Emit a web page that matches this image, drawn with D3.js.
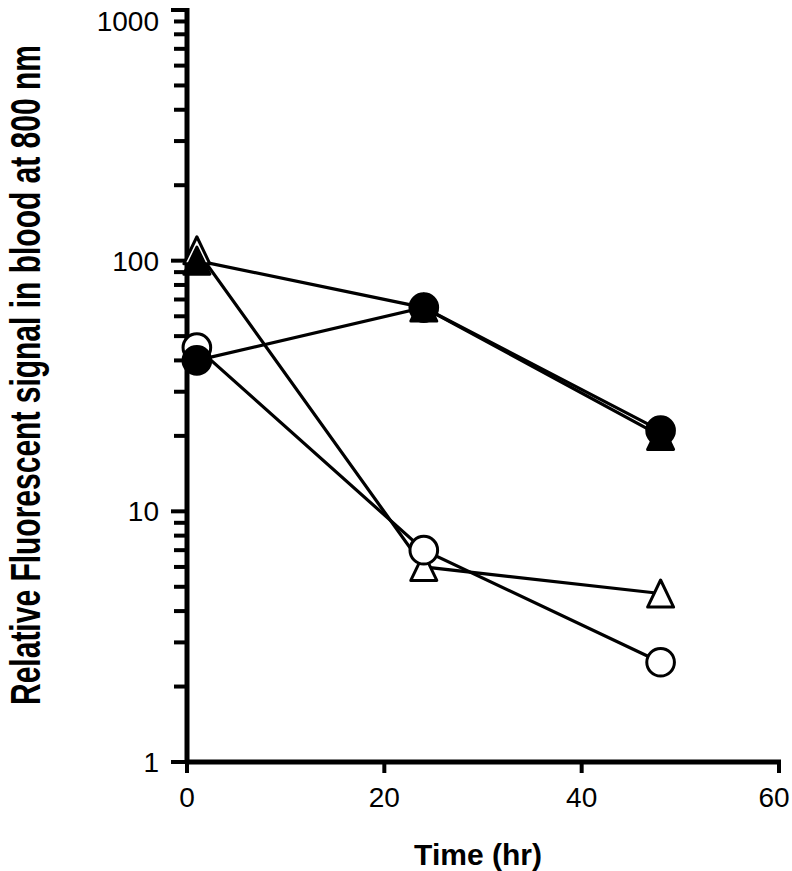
<!DOCTYPE html>
<html>
<head>
<meta charset="utf-8">
<script src="https://cdn.jsdelivr.net/npm/d3@7"></script>
<style>
  body { margin: 0; background: #fff; }
  svg { display: block; }
  text { font-family: "Liberation Sans", Arial, sans-serif; fill: #000; }
</style>
</head>
<body>
<svg width="792" height="871"></svg>
<script>
// time points (hr)
const times = [1, 24, 48];

// series values (relative fluorescent signal)
const filledCircle = [40, 65, 21];
const filledTriangle = [100, 65, 20];
const openCircle = [45, 7, 2.5];
const openTriangle = [110, 6, 4.7];

const xTicks = [0, 20, 40, 60];
const yTicks = [1, 10, 100, 1000];

const svg = d3.select("svg");
const margin = { top: 10, right: 13, bottom: 109, left: 187 };
const width = 792 - margin.left - margin.right;
const height = 871 - margin.top - margin.bottom;

const x = d3.scaleLinear().domain([0, 60]).range([0, width]);
const y = d3.scaleLog().domain([1, 1000]).range([height, 0]);

const g = svg.append("g").attr("transform", `translate(${margin.left},${margin.top})`);

// minor ticks on y axis
const minor = [];
for (let d = 1; d < 1000; d *= 10) {
    for (let k = 2; k <= 9; k++) minor.push(d * k);
}
g.selectAll(".minor")
    .data(minor)
    .enter().append("line")
    .attr("x1", -13).attr("x2", 0)
    .attr("y1", d => y(d)).attr("y2", d => y(d))
    .attr("stroke", "#000").attr("stroke-width", 4);

// major y ticks and labels
g.selectAll(".ymajor")
    .data(yTicks)
    .enter().append("line")
    .attr("x1", -16).attr("x2", 0)
    .attr("y1", d => y(d)).attr("y2", d => y(d))
    .attr("stroke", "#000").attr("stroke-width", 4);

g.selectAll(".ylab")
    .data(yTicks)
    .enter().append("text")
    .attr("x", -28)
    .attr("y", d => Math.max(y(d), 11))
    .attr("dy", "0.36em")
    .attr("text-anchor", "end")
    .style("font-size", "28px")
    .text(d => d);

// x ticks and labels
g.selectAll(".xtick")
    .data(xTicks)
    .enter().append("line")
    .attr("x1", d => x(d)).attr("x2", d => x(d))
    .attr("y1", height).attr("y2", height + 11)
    .attr("stroke", "#000").attr("stroke-width", 4);

g.selectAll(".xlab")
    .data(xTicks)
    .enter().append("text")
    .attr("x", d => Math.min(x(d), width + margin.right - 18))
    .attr("y", height + 45)
    .attr("text-anchor", "middle")
    .style("font-size", "28px")
    .text(d => d);

// axis lines
g.append("line")
    .attr("x1", 0).attr("x2", 0)
    .attr("y1", -2).attr("y2", height + 2)
    .attr("stroke", "#000").attr("stroke-width", 5);
g.append("line")
    .attr("x1", -2).attr("x2", width + 2)
    .attr("y1", height).attr("y2", height)
    .attr("stroke", "#000").attr("stroke-width", 5);

// axis titles
svg.append("text")
    .attr("x", 478)
    .attr("y", 865)
    .attr("text-anchor", "middle")
    .style("font-size", "30px")
    .style("font-weight", "bold")
    .text("Time (hr)");

svg.append("text")
    .attr("transform", "translate(40,375) rotate(-90) scale(1,1.4)")
    .attr("text-anchor", "middle")
    .style("font-size", "30px")
    .style("font-weight", "bold")
    .text("Relative Fluorescent signal in blood at 800 nm");

// taller-than-equilateral triangle, centred on its box
const tallTriangle = {
    draw(context, size) {
        const w = Math.sqrt(size);
        const h = w * 1.04;
        context.moveTo(0, -h / 2);
        context.lineTo(w / 2, h / 2);
        context.lineTo(-w / 2, h / 2);
        context.closePath();
    }
};

const series = [
    { values: openTriangle, shape: tallTriangle, size: 676, fill: "#fff" },
    { values: filledTriangle, shape: tallTriangle, size: 676, fill: "#000" },
    { values: openCircle, shape: d3.symbolCircle, size: 600, fill: "#fff" },
    { values: filledCircle, shape: d3.symbolCircle, size: 600, fill: "#000" }
];

const line = d3.line()
    .x((d, i) => x(times[i]))
    .y(d => y(d));

// lines
series.forEach(s => {
    g.append("path")
        .attr("d", line(s.values))
        .attr("fill", "none")
        .attr("stroke", "#000")
        .attr("stroke-width", 3.2);
});

// markers
series.forEach(s => {
    g.selectAll(null)
        .data(s.values)
        .enter().append("path")
        .attr("d", d3.symbol().type(s.shape).size(s.size))
        .attr("transform", (d, i) => `translate(${x(times[i])},${y(d)})`)
        .attr("fill", s.fill)
        .attr("stroke", "#000")
        .attr("stroke-width", 3)
        .attr("stroke-linejoin", "round");
});
</script>
</body>
</html>
